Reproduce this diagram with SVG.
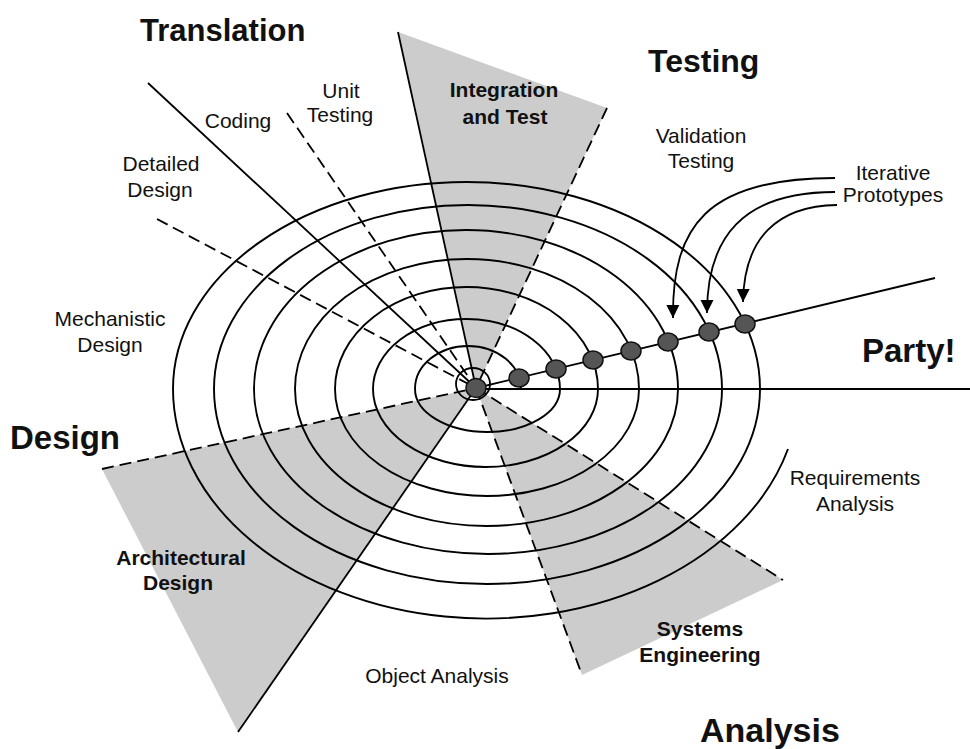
<svg xmlns="http://www.w3.org/2000/svg" width="970" height="749" viewBox="0 0 970 749">
<style>
.wedge{fill:#cccccc;stroke:none}
.ln{fill:none;stroke:#000;stroke-width:1.8}
.dash{fill:none;stroke:#000;stroke-width:1.8;stroke-dasharray:12 6}
.spiral{fill:none;stroke:#000;stroke-width:1.9}
.dot{fill:#555;stroke:#111;stroke-width:1.5}
.arr{fill:none;stroke:#000;stroke-width:1.8}
text{font-family:"Liberation Sans",Arial,Helvetica,sans-serif;fill:#111}
.lbl{font-size:21px;text-anchor:middle}
.blbl{font-size:21px;font-weight:bold;text-anchor:middle}
.title{font-size:33px;font-weight:bold}
</style>
<defs>
<marker id="ah" viewBox="0 0 12 12" refX="12" refY="6" markerWidth="13" markerHeight="14" markerUnits="userSpaceOnUse" orient="auto">
<path d="M0,0 L12,6 L0,12 z" fill="#000"/>
</marker>
</defs>
<g id="wedges">
<polygon id="wedge-integration" class="wedge" points="398,32 607,108 476,388"/>
<polygon id="wedge-architectural" class="wedge" points="102,469 238,732 476,388"/>
<polygon id="wedge-systems" class="wedge" points="476,388 783,580 582,675"/>
</g>
<g id="spiral">
<path class="spiral" d="M 521,389 A 53 43 0 0 0 415,389 A 72.5 43 0 0 0 560,389 A 93.5 70 0 0 0 373,389 A 112.5 78 0 0 0 598,389 A 131.5 102 0 0 0 335,389 A 152 107 0 0 0 639,389 A 172 130 0 0 0 295,389 A 191.5 137 0 0 0 678,389 A 212 159 0 0 0 254,389 A 234 165 0 0 0 722,389 A 254 184 0 0 0 214,389 A 273 195 0 0 0 760,389 A 293.5 207 0 0 0 173,389 A 313 230 0 0 0 788,449"/>
<ellipse class="ln" cx="473" cy="384" rx="17" ry="16"/>
</g>
<g id="connectors">
<line class="ln" x1="148" y1="83" x2="476" y2="388"/>
<line class="dash" x1="287" y1="113" x2="476" y2="388"/>
<line class="dash" x1="157" y1="219" x2="476" y2="388"/>
<line class="ln" x1="398" y1="32" x2="476" y2="388"/>
<line class="dash" x1="607" y1="108" x2="476" y2="388"/>
<line class="dash" x1="102" y1="469" x2="476" y2="388"/>
<line class="ln" x1="238" y1="732" x2="476" y2="388"/>
<line class="dash" x1="476" y1="388" x2="783" y2="580"/>
<line class="dash" x1="476" y1="388" x2="582" y2="675"/>
<line class="ln" x1="476" y1="389" x2="970" y2="389"/>
<line class="ln" x1="476" y1="388" x2="935" y2="278"/>
<path class="arr" d="M 835,178 C 705,178 672,228 673,318" marker-end="url(#ah)"/>
<path class="arr" d="M 835,192 C 742,192 707,238 707,313" marker-end="url(#ah)"/>
<path class="arr" d="M 837,205 C 777,206 744,238 743,302" marker-end="url(#ah)"/>
</g>
<g id="prototypes">
<ellipse id="p0" class="dot" cx="476" cy="388" rx="10" ry="9.5"/>
<ellipse id="p1" class="dot" cx="519" cy="378" rx="10" ry="9"/>
<ellipse id="p2" class="dot" cx="556" cy="369" rx="10" ry="9"/>
<ellipse id="p3" class="dot" cx="593" cy="360" rx="10" ry="9"/>
<ellipse id="p4" class="dot" cx="631" cy="351" rx="10" ry="9"/>
<ellipse id="p5" class="dot" cx="668" cy="342" rx="10" ry="9"/>
<ellipse id="p6" class="dot" cx="709" cy="332" rx="10" ry="9"/>
<ellipse id="p7" class="dot" cx="745" cy="324" rx="10" ry="9"/>
</g>
<g id="titles">
<text class="title" x="140" y="41" style="font-size:31px">Translation</text>
<text class="title" x="648" y="72" style="font-size:32px">Testing</text>
<text class="title" x="10" y="449">Design</text>
<text class="title" x="862" y="362">Party!</text>
<text class="title" x="700" y="742" style="font-size:34px">Analysis</text>
</g>
<g id="labels">
<text class="lbl" x="238" y="128">Coding</text>
<text class="lbl" x="341" y="98">Unit</text>
<text class="lbl" x="340" y="122">Testing</text>
<text class="lbl" x="161" y="171">Detailed</text>
<text class="lbl" x="160" y="197">Design</text>
<text class="lbl" x="110" y="326">Mechanistic</text>
<text class="lbl" x="110" y="352">Design</text>
<text class="lbl" x="701" y="143">Validation</text>
<text class="lbl" x="701" y="168">Testing</text>
<text class="lbl" x="893" y="180">Iterative</text>
<text class="lbl" x="893" y="202">Prototypes</text>
<text class="lbl" x="855" y="485">Requirements</text>
<text class="lbl" x="855" y="511">Analysis</text>
<text class="lbl" x="437" y="683">Object Analysis</text>
<text class="blbl" x="504" y="97">Integration</text>
<text class="blbl" x="505" y="124">and Test</text>
<text class="blbl" x="181" y="565">Architectural</text>
<text class="blbl" x="178" y="590">Design</text>
<text class="blbl" x="700" y="636">Systems</text>
<text class="blbl" x="700" y="662">Engineering</text>
</g>
</svg>
